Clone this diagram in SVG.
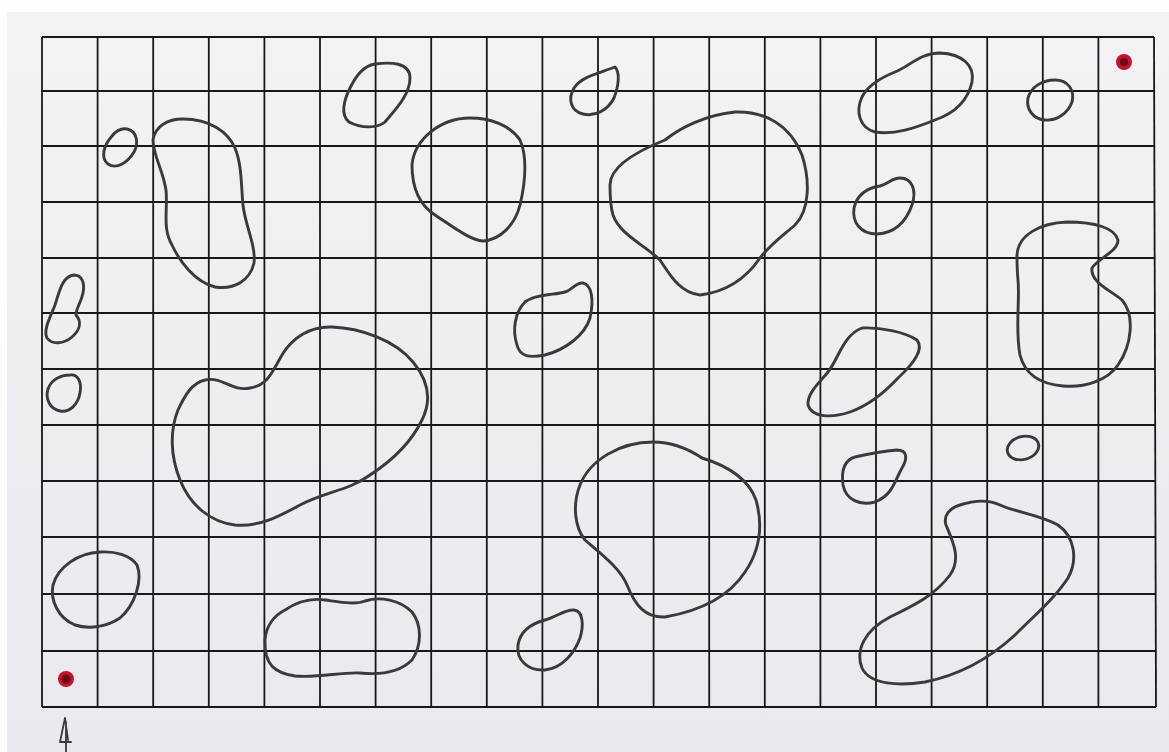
<svg xmlns="http://www.w3.org/2000/svg" width="1169" height="752" viewBox="0 0 1169 752">
<defs>
<style>
.grid line{stroke:#18181a;stroke-width:1.8}
.blob{fill:none;stroke:#3b3a38;stroke-width:2.9;stroke-linejoin:round;stroke-linecap:round}
.dot{fill:#c4122f}
.dotc{fill:#6a0a14}
.pen{fill:none;stroke:#3a3a3c;stroke-width:1.8;stroke-linecap:round;stroke-linejoin:round}
</style>
<linearGradient id="paper" x1="0" y1="0" x2="0" y2="1">
<stop offset="0" stop-color="#f3f3f5"/>
<stop offset="1" stop-color="#e9e9ee"/>
</linearGradient>
</defs>
<rect x="0" y="0" width="1169" height="752" fill="#fdfdfd"/>
<rect x="7" y="12" width="1162" height="740" fill="url(#paper)"/>
<g id="grid" class="grid">
<line x1="42" y1="37" x2="42" y2="707"/>
<line x1="97.6" y1="37" x2="97.6" y2="707"/>
<line x1="153.2" y1="37" x2="153.2" y2="707"/>
<line x1="208.8" y1="37" x2="208.8" y2="707"/>
<line x1="264.4" y1="37" x2="264.4" y2="707"/>
<line x1="320" y1="37" x2="320" y2="707"/>
<line x1="375.6" y1="37" x2="375.6" y2="707"/>
<line x1="431.2" y1="37" x2="431.2" y2="707"/>
<line x1="486.8" y1="37" x2="486.8" y2="707"/>
<line x1="542.4" y1="37" x2="542.4" y2="707"/>
<line x1="598" y1="37" x2="598" y2="707"/>
<line x1="653.6" y1="37" x2="653.6" y2="707"/>
<line x1="709.2" y1="37" x2="709.2" y2="707"/>
<line x1="764.8" y1="37" x2="764.8" y2="707"/>
<line x1="820.4" y1="37" x2="820.4" y2="707"/>
<line x1="876" y1="37" x2="876" y2="707"/>
<line x1="931.6" y1="37" x2="931.6" y2="707"/>
<line x1="987.2" y1="37" x2="987.2" y2="707"/>
<line x1="1042.8" y1="37" x2="1042.8" y2="707"/>
<line x1="1098.4" y1="37" x2="1098.4" y2="707"/>
<line x1="1154" y1="37" x2="1156" y2="707"/>
<line x1="42" y1="37" x2="1154" y2="37"/>
<line x1="42" y1="91" x2="1154" y2="91"/>
<line x1="42" y1="146" x2="1154" y2="146"/>
<line x1="42" y1="202" x2="1154" y2="202"/>
<line x1="42" y1="258" x2="1154" y2="258"/>
<line x1="42" y1="313" x2="1155" y2="313"/>
<line x1="42" y1="369" x2="1155" y2="369"/>
<line x1="42" y1="425" x2="1155" y2="425"/>
<line x1="42" y1="481" x2="1155" y2="481"/>
<line x1="42" y1="537" x2="1155" y2="537"/>
<line x1="42" y1="594" x2="1156" y2="594"/>
<line x1="42" y1="651" x2="1156" y2="651"/>
<line x1="42" y1="707" x2="1156" y2="707"/>
</g>
<g id="blob-1"><path class="blob" d="M127,129 C137,131 139,143 134,152 C128,162 117,170 108,164 C100,158 104,145 112,136 C116,131 121,128 127,129 Z"/></g>
<g id="blob-2"><path class="blob" d="M183,119 C168,119 155,126 153,140 C153,155 163,170 166,190 C168,210 162,228 172,245 C180,262 195,282 215,287 C235,290 250,280 254,263 C256,245 245,225 243,205 C241,185 242,165 235,148 C228,132 210,119 183,119 Z"/></g>
<g id="blob-3"><path class="blob" d="M375,64 C390,62 410,62 410,78 C410,95 395,110 385,122 C378,128 362,129 349,122 C340,115 344,100 350,88 C356,76 363,66 375,64 Z"/></g>
<g id="blob-4"><path class="blob" d="M615,67 C620,72 619,85 614,98 C608,110 595,117 583,114 C570,111 568,98 574,88 C582,76 600,73 615,67 Z"/></g>
<g id="blob-5"><path class="blob" d="M470,118 C490,118 510,125 520,140 C527,155 526,180 520,205 C515,225 500,240 483,241 C470,240 455,228 435,215 C418,204 412,185 412,165 C414,140 440,118 470,118 Z"/></g>
<g id="blob-6"><path class="blob" d="M610,185 C610,165 640,150 665,140 C680,128 705,115 735,112 C765,111 790,125 802,155 C810,180 810,210 795,225 C780,238 770,245 760,258 C745,280 725,292 700,295 C680,293 670,275 660,260 C645,245 620,235 613,215 C610,205 610,195 610,185 Z"/></g>
<g id="blob-7"><path class="blob" d="M940,53 C962,54 975,65 972,82 C968,100 955,113 935,120 C915,128 895,135 875,132 C860,128 855,112 862,97 C868,85 880,78 895,72 C910,66 920,53 940,53 Z"/></g>
<g id="blob-8"><path class="blob" d="M1055,80 C1068,80 1075,90 1072,102 C1068,113 1057,121 1045,120 C1032,119 1026,108 1028,98 C1031,87 1042,80 1055,80 Z"/></g>
<g id="blob-9"><path class="blob" d="M900,178 C912,178 917,190 912,205 C906,222 895,233 877,234 C860,234 852,222 854,208 C857,195 867,188 880,186 C888,184 892,178 900,178 Z"/></g>
<g id="blob-10"><path class="blob" d="M74,275 C82,275 85,283 83,293 C81,303 76,308 76,315 C82,322 80,330 72,337 C64,344 52,345 47,338 C43,330 50,318 55,305 C59,293 62,276 74,275 Z"/></g>
<g id="blob-11"><path class="blob" d="M70,375 C78,374 82,382 80,393 C78,404 70,413 60,411 C50,409 45,399 48,389 C51,380 60,375 70,375 Z"/></g>
<g id="blob-12"><path class="blob" d="M583,283 C592,285 594,300 590,318 C585,335 565,350 545,355 C530,358 520,357 517,345 C512,330 515,312 525,302 C535,294 555,295 565,292 C572,290 576,282 583,283 Z"/></g>
<g id="blob-13"><path class="blob" d="M205,380 C222,376 232,392 250,388 C268,385 272,372 282,355 C292,338 310,326 332,327 C360,328 395,340 413,362 C428,380 432,400 422,420 C410,445 390,462 370,475 C350,490 325,492 300,505 C280,516 260,527 235,525 C210,522 190,505 180,480 C170,455 170,430 178,410 C185,395 192,383 205,380 Z"/></g>
<g id="blob-14"><path class="blob" d="M862,328 C880,327 905,332 917,340 C925,350 912,365 898,378 C885,392 870,405 850,412 C832,418 812,418 808,405 C807,393 820,382 828,372 C838,360 843,335 862,328 Z"/></g>
<g id="blob-15"><path class="blob" d="M1017,255 C1018,235 1040,223 1067,222 C1095,222 1115,228 1118,240 C1118,252 1098,258 1092,268 C1090,282 1110,290 1122,300 C1135,315 1132,345 1118,365 C1108,380 1085,388 1063,386 C1040,384 1025,375 1020,355 C1015,330 1020,300 1018,280 C1017,270 1017,262 1017,255 Z"/></g>
<g id="blob-16"><ellipse class="blob" cx="1023" cy="448" rx="16" ry="11.5" transform="rotate(-15 1023 448)"/></g>
<g id="blob-17"><path class="blob" d="M897,450 C907,450 908,458 902,468 C895,480 893,495 875,502 C860,506 846,500 843,485 C841,470 845,460 855,457 C868,454 885,451 897,450 Z"/></g>
<g id="blob-18"><path class="blob" d="M653,442 C672,442 690,450 702,458 C725,465 748,478 756,500 C763,525 760,550 745,572 C730,595 705,610 665,617 C645,618 635,605 627,585 C620,568 600,553 585,540 C575,528 572,505 580,485 C590,460 620,442 653,442 Z"/></g>
<g id="blob-19"><path class="blob" d="M960,505 C975,500 990,500 1000,505 C1015,512 1040,515 1058,525 C1075,537 1078,560 1068,578 C1055,598 1035,615 1015,635 C990,658 960,675 925,682 C900,686 870,685 862,668 C855,650 865,630 890,617 C915,605 935,595 950,575 C962,558 952,540 946,525 C943,515 950,508 960,505 Z"/></g>
<g id="blob-20"><path class="blob" d="M100,552 C115,551 130,555 137,565 C143,580 135,605 120,618 C108,626 90,630 75,625 C58,618 50,600 53,585 C58,567 78,553 100,552 Z"/></g>
<g id="blob-21"><path class="blob" d="M285,610 C300,600 312,598 325,600 C340,602 355,605 365,601 C380,596 400,600 412,612 C422,625 422,645 412,660 C400,672 380,675 360,673 C340,672 320,678 295,676 C275,673 264,665 265,640 C266,625 275,615 285,610 Z"/></g>
<g id="blob-22"><path class="blob" d="M574,610 C583,611 584,625 580,638 C575,652 563,668 545,670 C528,671 516,660 518,645 C520,632 530,624 545,620 C558,616 566,609 574,610 Z"/></g>
<g id="dot-top-right"><circle class="dot" cx="1124" cy="62" r="8"/><circle class="dotc" cx="1124" cy="62" r="4"/></g>
<g id="dot-bottom-left"><circle class="dot" cx="66" cy="679" r="8"/><circle class="dotc" cx="66" cy="679" r="4.5"/></g>
<g id="arrow"><path class="pen" d="M66,752 L66,722 M65,718 L60,742 L71,742 M65,718 L68,740"/></g>
</svg>
